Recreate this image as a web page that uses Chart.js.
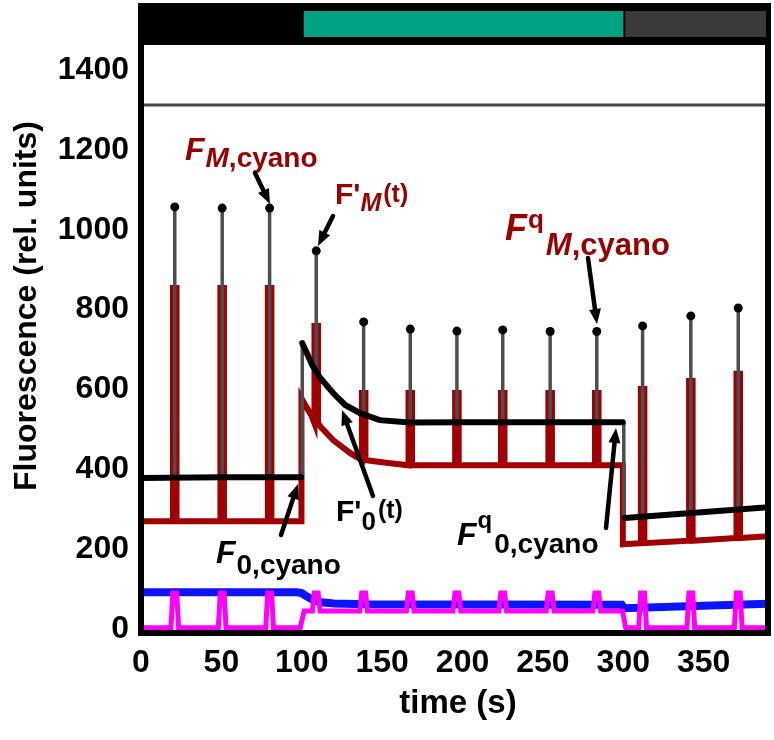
<!DOCTYPE html>
<html><head><meta charset="utf-8">
<script src="https://cdn.jsdelivr.net/npm/chart.js@4.4.0/dist/chart.umd.min.js"></script>
<style>html,body{margin:0;padding:0;background:#fff}</style>
</head><body>
<canvas id="c" width="774" height="740"></canvas>
<script>
// ---- data ----
const pulseTimes   = [21, 50.5, 80, 109, 138.5, 167.5, 196.5, 225, 254.5, 283.5, 312, 342, 371.5];
const peakDots     = [1057, 1054, 1054, 947, 769, 751, 746, 749, 745, 745, 759, 784, 804];
const spikeBase    = [378, 379, 379, 640, 543, 517, 518, 518, 518, 518, 281, 290, 298];
const redPeaks     = [854, 854, 854, 759, 591, 591, 591, 591, 591, 591, 601, 621, 639];
const redPulseBase = [270, 270, 270, 515, 423, 410, 410, 410, 410, 410, 215, 221, 228];
const redCurve   = [[0,270],[99.8,270],[99.8,578],[103,555],[106,535],[112,505],[119.5,473],[130,441],[145,420],[155,415],[180,410],[299.7,410],[299.7,212],[390,232]];
const blackCurve = [[0,378],[50,380],[99.7,380],null,[100.3,716],[106.5,661],[111,631],[119.5,591],[127,561],[136,541],[148.5,523],[167,517],[200,518],[299.7,518],null,[300.9,278],[390,305]];
const grayConnectors = [[100.3,380,716],[300.3,518,278]];
const grayTopCurve = [[0,1312],[390,1312]];
const blueCurve  = [[0,92],[97,92],[100,90],[103,82],[107,73],[112,67],[120,64],[140,62],[299,61],[300.5,52],[390,63]];
const pinkCurve  = [[0,3],[99,3],[101.5,45],[299.5,45],[301.5,3],[390,3]];
const pinkPulseBase = [3,3,3,45,45,45,45,45,45,45,3,3,3];
const pinkPulseTop  = 90;
const xTicks = [0,50,100,150,200,250,300,350];
const yTicks = [0,200,400,600,800,1000,1200,1400];
const lightPhases = [[0,100,'#000000'],[100,300,'#00a383'],[300,390,'#3a3a3a']];

// ---- build library data ----
function mergePulses(curve, times, bases, tops, hwBase, hwTop){
  let k = 0;
  let pts = curve.map(p => ({x:p[0], y:p[1], k:k++}));
  times.forEach((t,i)=>{
    pts = pts.filter(p => Math.abs(p.x - t) > hwBase + 0.2);
    pts.push({x:t-hwBase,y:bases[i],k:k++});
    pts.push({x:t-hwTop,y:tops[i],k:k++});
    pts.push({x:t+hwTop,y:tops[i],k:k++});
    pts.push({x:t+hwBase,y:bases[i],k:k++});
  });
  pts.sort((a,b)=>(a.x-b.x)||(a.k-b.k));
  return pts.map(p=>({x:p.x,y:p.y}));
}
const redData  = mergePulses(redCurve, pulseTimes, redPulseBase, redPeaks, 1.1, 1.1);
const pinkData = mergePulses(pinkCurve, pulseTimes, pinkPulseBase, pulseTimes.map(()=>pinkPulseTop), 2.4, 1.2);
const blackData = blackCurve.map(p => p ? {x:p[0],y:p[1]} : {x:NaN,y:null});
const graySpikeData = [];
pulseTimes.forEach((t,i)=>{ graySpikeData.push({x:t,y:spikeBase[i]},{x:t,y:peakDots[i]},{x:t,y:null}); });
grayConnectors.forEach(c=>{ graySpikeData.push({x:c[0],y:c[1]},{x:c[0],y:c[2]},{x:c[0],y:null}); });
const dotData = pulseTimes.map((t,i)=>({x:t,y:peakDots[i]}));
const toXY = a => a.map(p=>({x:p[0],y:p[1]}));

const FONT = '"Liberation Sans", Arial, sans-serif';
const DARKRED = '#990000';

function arrow(ctx,x1,y1,x2,y2){
  const a = Math.atan2(y2-y1,x2-x1), L=15, W=6;
  ctx.save(); ctx.strokeStyle='#000'; ctx.fillStyle='#000'; ctx.lineWidth=4.5; ctx.lineCap='round';
  ctx.beginPath(); ctx.moveTo(x1,y1); ctx.lineTo(x2-Math.cos(a)*L*0.8,y2-Math.sin(a)*L*0.8); ctx.stroke();
  ctx.beginPath(); ctx.moveTo(x2,y2);
  ctx.lineTo(x2-Math.cos(a)*L+Math.sin(a)*W, y2-Math.sin(a)*L-Math.cos(a)*W);
  ctx.lineTo(x2-Math.cos(a)*L-Math.sin(a)*W, y2-Math.sin(a)*L+Math.cos(a)*W);
  ctx.closePath(); ctx.fill(); ctx.restore();
}
function rich(ctx,x,parts,color){
  ctx.save(); ctx.fillStyle=color; ctx.textBaseline='alphabetic'; ctx.textAlign='left';
  let cx=x;
  parts.forEach(p=>{ ctx.font=p.f+' '+FONT; ctx.fillText(p.t,cx,p.y); cx+=ctx.measureText(p.t).width+(p.g||0); });
  ctx.restore();
}

const decor = {
  id:'decor',
  afterDatasetsDraw(chart){
    const {ctx, chartArea:ca, scales:{x}} = chart;
    ctx.save();
    ctx.strokeStyle='#000'; ctx.lineWidth=6;
    ctx.strokeRect(ca.left, ca.top, ca.right-ca.left, ca.bottom-ca.top);
    ctx.fillStyle='#000'; ctx.fillRect(ca.left-3, 3, ca.right-ca.left+6, 39);
    lightPhases.forEach(ph=>{
      if(ph[2]==='#000000') return;
      const x0=x.getPixelForValue(ph[0]), x1=Math.min(x.getPixelForValue(ph[1]), ca.right-2);
      ctx.fillStyle=ph[2]; ctx.fillRect(x0+2, 11, x1-x0-2, 26);
    });
    ctx.restore();
  },
  afterDraw(chart){
    const ctx = chart.ctx;
    ctx.save(); ctx.fillStyle='#000'; ctx.textAlign='center'; ctx.textBaseline='middle';
    ctx.font='bold 33px '+FONT;
    ctx.fillText('time (s)', 458, 704);
    ctx.font='bold 32px '+FONT;
    ctx.translate(27,306); ctx.rotate(-Math.PI/2); ctx.fillText('Fluorescence (rel. units)',0,0);
    ctx.restore();
    rich(ctx,185,[{t:'F',f:'italic bold 32px',y:160,g:1},{t:'M',f:'italic bold 28px',y:167},{t:',cyano',f:'bold 28px',y:167}],DARKRED);
    arrow(ctx,255,173,270,204);
    rich(ctx,335,[{t:"F'",f:'bold 30px',y:204},{t:'M',f:'italic bold 25px',y:211,g:2},{t:'(t)',f:'bold 25px',y:202}],DARKRED);
    arrow(ctx,333,216,318,246);
    rich(ctx,505,[{t:'F',f:'italic bold 36px',y:240,g:1},{t:'q',f:'bold 26px',y:228,g:2},{t:'M',f:'italic bold 31px',y:255},{t:',cyano',f:'bold 31px',y:255}],DARKRED);
    arrow(ctx,588,258,597,324);
    rich(ctx,336,[{t:"F'",f:'bold 30px',y:521},{t:'0',f:'bold 26px',y:530,g:2},{t:'(t)',f:'bold 25px',y:518}],'#000');
    arrow(ctx,373,496,342,410);
    rich(ctx,216,[{t:'F',f:'italic bold 32px',y:563,g:1},{t:'0,cyano',f:'bold 28px',y:574}],'#000');
    arrow(ctx,281,535,298,484);
    rich(ctx,457,[{t:'F',f:'italic bold 32px',y:545,g:1},{t:'q',f:'bold 24px',y:528,g:2},{t:'0,cyano',f:'bold 28px',y:553}],'#000');
    arrow(ctx,606,528,616,428);
  }
};

new Chart(document.getElementById('c'),{
  type:'line',
  data:{datasets:[
    {data:toXY(grayTopCurve), borderColor:'#474747', borderWidth:3, order:10},
    {data:toXY(blueCurve), borderColor:'#0a14ff', borderWidth:8, order:9},
    {data:pinkData, borderColor:'#ff00ff', borderWidth:5, order:8, borderJoinStyle:'miter'},
    {data:redData, borderColor:'#a00000', borderWidth:6, order:7, borderJoinStyle:'miter'},
    {data:graySpikeData, borderColor:'#4d4d4d', borderWidth:3.5, order:6},
    {data:blackData, borderColor:'#000', borderWidth:6, order:5, borderCapStyle:'round'},
    {data:dotData, showLine:false, pointRadius:4.5, pointBackgroundColor:'#000', pointBorderWidth:0, order:4}
  ]},
  options:{
    responsive:false, animation:false, devicePixelRatio:1,
    layout:{padding:{top:42,right:6,left:0,bottom:0}},
    elements:{point:{radius:0,hoverRadius:0},line:{tension:0,fill:false}},
    spanGaps:false,
    plugins:{legend:{display:false},tooltip:{enabled:false}},
    scales:{
      x:{type:'linear',min:0,max:390,
        grid:{display:false,drawTicks:false}, border:{display:false},
        afterBuildTicks:s=>{s.ticks=xTicks.map(v=>({value:v}));},
        afterFit:s=>{s.height=107;},
        ticks:{color:'#000',font:{family:FONT,size:32,weight:'bold'},padding:11,maxRotation:0,autoSkip:false,callback:v=>String(v)}},
      y:{type:'linear',min:-10,max:1470,
        grid:{display:false,drawTicks:false}, border:{display:false},
        afterBuildTicks:s=>{s.ticks=yTicks.map(v=>({value:v}));},
        afterFit:s=>{s.width=141;},
        ticks:{color:'#000',font:{family:FONT,size:32,weight:'bold'},padding:12,autoSkip:false,callback:v=>String(v)}}
    }
  },
  plugins:[decor]
});
</script>
</body></html>
